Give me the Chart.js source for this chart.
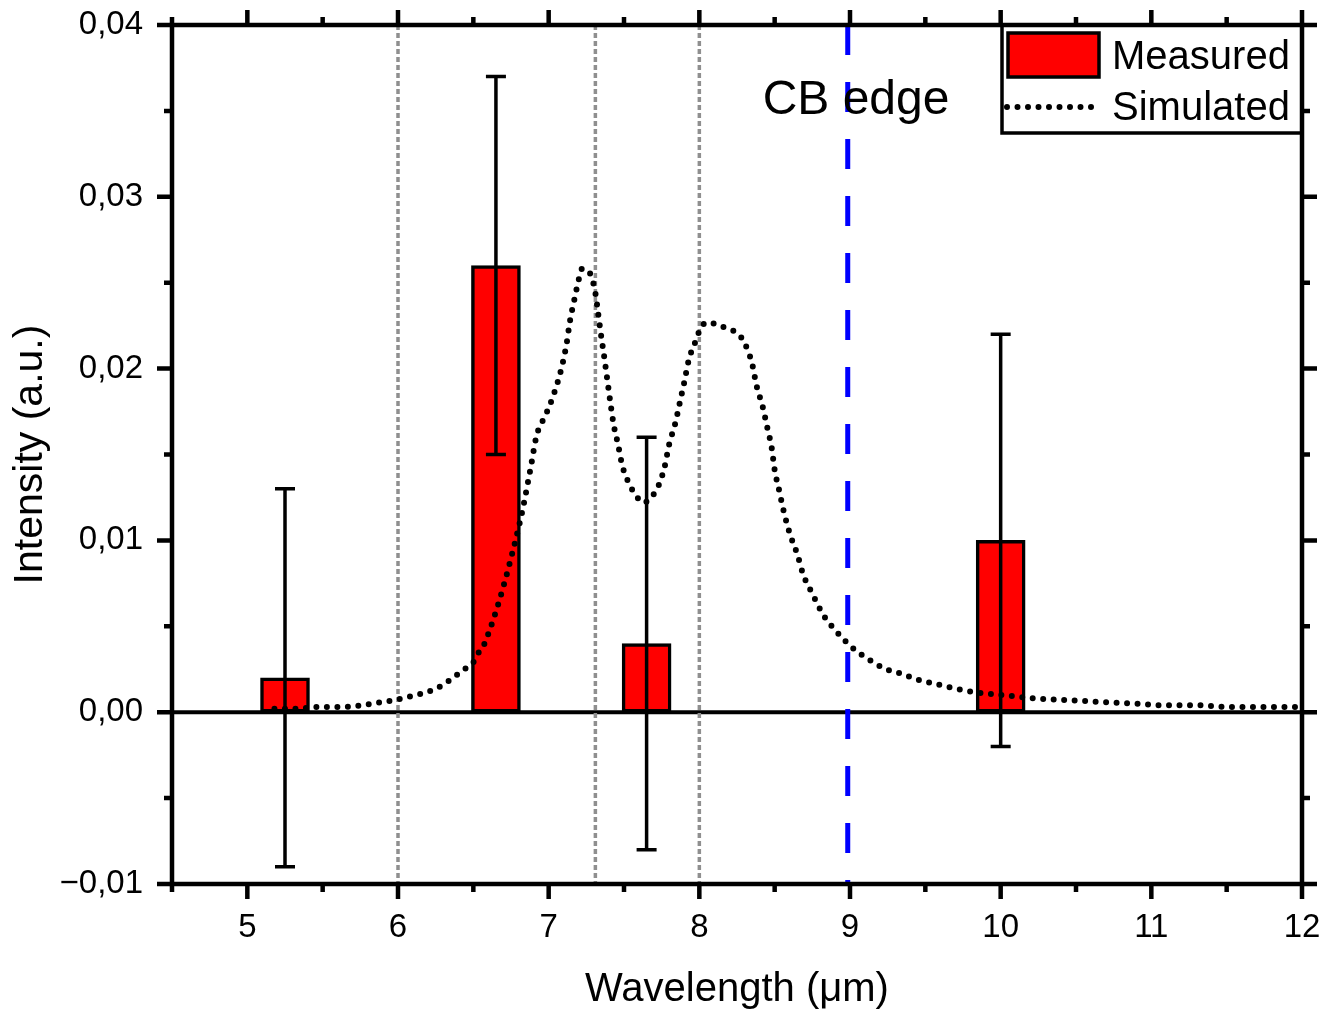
<!DOCTYPE html>
<html>
<head>
<meta charset="utf-8">
<script src="https://cdn.jsdelivr.net/npm/chart.js@4.4.0/dist/chart.umd.min.js"></script>
<style>
  html, body { margin: 0; padding: 0; background: #fff; }
  #wrap { width: 1338px; height: 1012px; }
</style>
</head>
<body>
<div id="wrap"><canvas id="spectrumChart" width="1338" height="1012"></canvas></div>
<script>
// measured bars (centre wavelength, intensity) and their error ranges
const barX = [5.25, 6.65, 7.65, 10.0];
const barY = [0.002, 0.026, 0.004, 0.010];
const errLow = [-0.009, 0.015, -0.008, -0.002];
const errHigh = [0.013, 0.037, 0.016, 0.022];

// simulated spectrum
const simX = [5.18, 5.33, 5.47, 5.62, 5.76, 5.90, 5.97, 6.12, 6.26, 6.38, 6.44, 6.50, 6.53, 6.57,
  6.81, 6.88, 6.92, 6.98, 7.03, 7.09, 7.12, 7.14, 7.17, 7.20, 7.22, 7.27, 7.31, 7.33, 7.35, 7.37,
  7.39, 7.41, 7.43, 7.46, 7.49, 7.54, 7.58, 7.63, 7.69, 7.73, 7.77, 7.80, 7.84, 7.87, 7.90, 7.93,
  7.98, 8.01, 8.06, 8.13, 8.20, 8.26, 8.30, 8.35, 8.38, 8.42, 8.45, 8.48, 8.50, 8.53, 8.56, 8.60,
  8.65, 8.69, 8.75, 8.82, 8.91, 9.01, 9.12, 9.24, 9.32, 9.45, 9.59, 9.74, 9.88, 10.01, 10.23,
  10.45, 10.66, 10.88, 11.10, 11.31, 11.53, 11.74, 11.97];
const simY = [0.0002, 0.0002, 0.0003, 0.0003, 0.0004, 0.0006, 0.0007, 0.0010, 0.0014, 0.0021, 0.0025,
  0.0029, 0.0034, 0.0039, 0.0111, 0.0142, 0.0161, 0.0173, 0.0184, 0.0202, 0.0215, 0.0227, 0.0240,
  0.0252, 0.0258, 0.0256, 0.0244, 0.0231, 0.0218, 0.0206, 0.0193, 0.0180, 0.0168, 0.0156, 0.0143,
  0.0132, 0.0126, 0.0122, 0.0126, 0.0132, 0.0143, 0.0156, 0.0168, 0.0180, 0.0192, 0.0205, 0.0217,
  0.0224, 0.0227, 0.0225, 0.0223, 0.0220, 0.0215, 0.0203, 0.0190, 0.0178, 0.0166, 0.0154, 0.0141,
  0.0129, 0.0117, 0.0104, 0.0092, 0.0080, 0.0069, 0.0057, 0.0047, 0.0038, 0.0031, 0.0025, 0.0023,
  0.0019, 0.0016, 0.0013, 0.0011, 0.0010, 0.0008, 0.0007, 0.0006, 0.0005, 0.0004, 0.0004, 0.0003,
  0.0003, 0.0003];

// guide lines
const markerX = [6.0, 7.31, 8.0];
const cbEdgeX = 8.985;

// axes
const xMin = 4.5, xMax = 12;
const yMin = -0.01, yMax = 0.04;
const xTicks = [5, 6, 7, 8, 9, 10, 11, 12];
const yTicks = [-0.01, 0, 0.01, 0.02, 0.03, 0.04];

const FONT = "'Liberation Sans', Arial, sans-serif";

function pts(xs, ys) {
  return xs.map((v, i) => ({ x: v, y: ys[i] }));
}

// zero line under the data
const zeroLine = {
  id: 'zeroLine',
  beforeDatasetsDraw(chart) {
    const { ctx, chartArea: a, scales: { y } } = chart;
    const py = y.getPixelForValue(0);
    ctx.save();
    ctx.strokeStyle = '#000';
    ctx.lineWidth = 4;
    ctx.beginPath();
    ctx.moveTo(a.left, py);
    ctx.lineTo(a.right, py);
    ctx.stroke();
    ctx.restore();
  }
};

// error bars on the measured values
const errorBars = {
  id: 'errorBars',
  afterDatasetsDraw(chart) {
    const { ctx, scales: { x, y } } = chart;
    ctx.save();
    ctx.strokeStyle = '#000';
    ctx.lineWidth = 3.5;
    barX.forEach((v, i) => {
      const px = x.getPixelForValue(v);
      const lo = y.getPixelForValue(errLow[i]);
      const hi = y.getPixelForValue(errHigh[i]);
      ctx.beginPath();
      ctx.moveTo(px, lo); ctx.lineTo(px, hi);
      ctx.moveTo(px - 10, lo); ctx.lineTo(px + 10, lo);
      ctx.moveTo(px - 10, hi); ctx.lineTo(px + 10, hi);
      ctx.stroke();
    });
    ctx.restore();
  }
};

// box frame, outward ticks on all sides, legend and CB edge label
const frameAndLegend = {
  id: 'frameAndLegend',
  afterDraw(chart) {
    const { ctx, chartArea: a, scales: { x, y } } = chart;
    ctx.save();

    // legend box
    const lx = a.right - 300, ly = a.top, lw = 300, lh = 108;
    ctx.fillStyle = '#fff';
    ctx.fillRect(lx, ly, lw, lh);
    ctx.strokeStyle = '#000';
    ctx.lineWidth = 3.5;
    ctx.strokeRect(lx, ly, lw, lh);
    const ds = chart.data.datasets;
    ctx.fillStyle = ds[0].backgroundColor;
    ctx.fillRect(lx + 6, ly + 8, 91, 44);
    ctx.strokeRect(lx + 6, ly + 8, 91, 44);
    ctx.beginPath();
    ctx.setLineDash([0, 10.5]);
    ctx.lineCap = 'round';
    ctx.lineWidth = 6;
    ctx.moveTo(lx + 5, ly + 82);
    ctx.lineTo(lx + 97, ly + 82);
    ctx.stroke();
    ctx.setLineDash([]);
    ctx.lineCap = 'butt';
    ctx.fillStyle = '#000';
    ctx.font = '40px ' + FONT;
    ctx.textAlign = 'left';
    ctx.textBaseline = 'alphabetic';
    ctx.fillText(ds[0].label, lx + 110, ly + 44);
    ctx.fillText(ds[1].label, lx + 110, ly + 95);

    // CB edge label
    ctx.font = '48px ' + FONT;
    ctx.textAlign = 'center';
    ctx.fillText('CB edge', x.getPixelForValue(9.04), y.getPixelForValue(0.0348));

    // frame
    ctx.strokeStyle = '#000';
    ctx.lineWidth = 4.5;
    ctx.strokeRect(a.left, a.top, a.right - a.left, a.bottom - a.top);

    // ticks
    ctx.beginPath();
    for (let k = 0; k <= (xMax - xMin) / 0.5; k++) {
      const v = xMin + k * 0.5;
      const px = x.getPixelForValue(v);
      const len = Number.isInteger(v) ? 15 : 8;
      ctx.moveTo(px, a.bottom); ctx.lineTo(px, a.bottom + len);
      ctx.moveTo(px, a.top); ctx.lineTo(px, a.top - len);
    }
    for (let k = 0; k <= Math.round((yMax - yMin) / 0.005); k++) {
      const py = y.getPixelForValue(yMin + k * 0.005);
      const len = k % 2 === 0 ? 15 : 8;
      ctx.moveTo(a.left, py); ctx.lineTo(a.left - len, py);
      ctx.moveTo(a.right, py); ctx.lineTo(a.right + len, py);
    }
    ctx.stroke();
    ctx.restore();
  }
};

const ctx = document.getElementById('spectrumChart').getContext('2d');
new Chart(ctx, {
  type: 'bar',
  data: {
    datasets: [
      {
        type: 'bar',
        label: 'Measured',
        data: pts(barX, barY),
        backgroundColor: '#ff0000',
        borderColor: '#000',
        borderWidth: 3.5,
        borderSkipped: false,
        barThickness: 49,
        order: 3
      },
      {
        type: 'line',
        label: 'Simulated',
        data: pts(simX, simY),
        borderColor: '#000',
        borderWidth: 6,
        borderDash: [0, 10.5],
        borderCapStyle: 'round',
        cubicInterpolationMode: 'monotone',
        pointRadius: 0,
        fill: false,
        order: 1
      },
      ...markerX.map(v => ({
        type: 'line',
        label: 'marker',
        data: [{ x: v, y: yMax }, { x: v, y: yMin }],
        borderColor: '#8f8f8f',
        borderWidth: 3.5,
        borderDash: [5, 3],
        pointRadius: 0,
        order: 5
      })),
      {
        type: 'line',
        label: 'CB edge',
        data: [{ x: cbEdgeX, y: yMax }, { x: cbEdgeX, y: yMin }],
        borderColor: '#0000ff',
        borderWidth: 5,
        borderDash: [30, 27],
        pointRadius: 0,
        order: 4
      }
    ]
  },
  options: {
    responsive: false,
    animation: false,
    devicePixelRatio: 1,
    layout: { padding: { top: 25, right: 36, left: 0, bottom: 0 } },
    plugins: {
      legend: { display: false },
      tooltip: { enabled: false }
    },
    scales: {
      x: {
        type: 'linear',
        min: xMin,
        max: xMax,
        offset: false,
        grid: { display: false, drawTicks: false },
        border: { display: false },
        afterBuildTicks: s => { s.ticks = xTicks.map(v => ({ value: v })); },
        afterFit: s => { s.height = 128; s.paddingLeft = 0; s.paddingRight = 0; },
        ticks: {
          color: '#000',
          font: { family: FONT, size: 33 },
          padding: 24,
          maxRotation: 0,
          autoSkip: false
        },
        title: {
          display: true,
          text: 'Wavelength (μm)',
          color: '#000',
          font: { family: FONT, size: 40, lineHeight: 1.1 },
          padding: 0
        }
      },
      y: {
        type: 'linear',
        min: yMin,
        max: yMax,
        grid: { display: false, drawTicks: false },
        border: { display: false },
        afterBuildTicks: s => { s.ticks = yTicks.map(v => ({ value: v })); },
        afterFit: s => { s.width = 172; s.paddingTop = 0; s.paddingBottom = 0; },
        ticks: {
          color: '#000',
          font: { family: FONT, size: 33 },
          padding: 29,
          callback: v => v.toFixed(2).replace('.', ',').replace('-', '\u2212')
        },
        title: {
          display: true,
          text: 'Intensity (a.u.)',
          color: '#000',
          font: { family: FONT, size: 41 },
          padding: { top: 6, bottom: 0 }
        }
      }
    }
  },
  plugins: [zeroLine, errorBars, frameAndLegend]
});
</script>
</body>
</html>
